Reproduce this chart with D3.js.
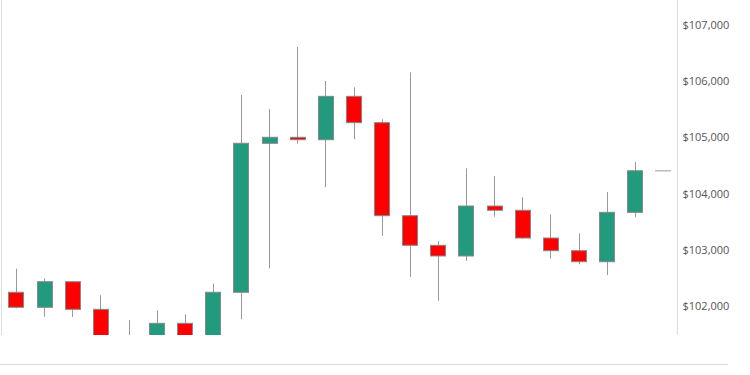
<!DOCTYPE html>
<html>
<head>
<meta charset="utf-8">
<script src="https://cdn.jsdelivr.net/npm/d3@7"></script>
<style>
  body { margin: 0; background: #fff; }
  .y-axis text { font-family: "Open Sans", sans-serif; font-size: 11px; fill: #555; }
  .y-axis path { stroke: #ddd; }
</style>
</head>
<body>
<svg id="chart" width="750" height="375"></svg>
<script>
// candle data, one entry per session
var days  = d3.range(1, 25);
var opens  = [102244, 101977, 102432, 101941, 101400, 101350, 101692, 101420, 102244, 104895, 105002, 104959,
              105731, 105262, 103607, 103080, 102890, 103779, 103703, 103210, 102984, 102788, 103667, 104407];
var highs  = [102664, 102493, 102440, 102190, 101751, 101923, 101852, 102397, 105754, 105505, 106609, 106004,
              105891, 105322, 106158, 103156, 104450, 104313, 103934, 103632, 103293, 104028, 104562, 104407];
var lows   = [101959, 101809, 101805, 101300, 101200, 101250, 101300, 101380, 101763, 102671, 104888, 104112,
              104966, 103251, 102516, 102094, 102801, 103589, 103198, 102841, 102742, 102551, 103578, 104407];
var closes = [101977, 102432, 101941, 101400, 101350, 101692, 101420, 102244, 104895, 105002, 104959, 105731,
              105262, 103607, 103080, 102890, 103779, 103703, 103210, 102984, 102788, 103667, 104407, 104407];
var yTicks = [102000, 103000, 104000, 105000, 106000, 107000];

var upColor = "#219a7d",
    downColor = "#ff0000";

var svg = d3.select("#chart");

var margin = {top: 0, right: 73, bottom: 40, left: 2},
    width = 750 - margin.left - margin.right,
    height = 375 - margin.top - margin.bottom;

var x = d3.scaleBand()
  .domain(days)
  .range([margin.left, margin.left + width])
  .paddingInner(0.46)
  .paddingOuter(0.23);

var y = d3.scaleLinear()
  .domain([101484, 107445])
  .range([margin.top + height, margin.top]);

// clip so candles running off the bottom get cut
svg.append("clipPath")
    .attr("id", "plot-clip")
  .append("rect")
    .attr("x", margin.left)
    .attr("y", margin.top)
    .attr("width", width)
    .attr("height", height);

// left edge and bottom rule
svg.append("line")
  .attr("x1", margin.left - 0.5).attr("x2", margin.left - 0.5)
  .attr("y1", 0).attr("y2", height)
  .attr("stroke", "#ddd");

svg.append("line")
  .attr("x1", 0).attr("x2", 728)
  .attr("y1", 364.5).attr("y2", 364.5)
  .attr("stroke", "#ddd");

// y axis on the right
var yAxis = d3.axisRight(y)
  .tickValues(yTicks)
  .tickSize(0)
  .tickPadding(5)
  .tickFormat(function(d) { return "$" + d3.format(",")(d); });

svg.append("g")
    .attr("class", "y-axis")
    .attr("transform", "translate(" + (margin.left + width + 0.5) + ",0)")
    .call(yAxis)
  .select(".domain")
    .attr("d", "M0,0V" + height);

function mid(d) {
  return Math.round(x(d) + x.bandwidth() / 2) + 0.5;
}

var candles = svg.append("g")
    .attr("clip-path", "url(#plot-clip)")
  .selectAll("g")
  .data(days)
  .join("g");

// wicks (skip flat candles)
candles.filter(function(d, i) { return highs[i] !== lows[i]; })
  .append("line")
  .attr("x1", mid)
  .attr("x2", mid)
  .attr("y1", function(d) { return y(highs[d - 1]); })
  .attr("y2", function(d) { return y(lows[d - 1]); })
  .attr("stroke", "#999")
  .attr("stroke-width", 1);

// bodies
candles.filter(function(d) { return opens[d - 1] !== closes[d - 1]; })
  .append("rect")
  .attr("x", function(d) { return Math.round(x(d)) + 0.5; })
  .attr("width", Math.round(x.bandwidth()))
  .attr("y", function(d) { return y(Math.max(opens[d - 1], closes[d - 1])); })
  .attr("height", function(d) { return Math.abs(y(opens[d - 1]) - y(closes[d - 1])); })
  .attr("fill", function(d) { return closes[d - 1] >= opens[d - 1] ? upColor : downColor; })
  .attr("stroke", "#888")
  .attr("stroke-width", 1);

// flat candles drawn as a single dash
candles.filter(function(d) { return opens[d - 1] === closes[d - 1]; })
  .append("line")
  .attr("x1", function(d) { return Math.round(x(d)); })
  .attr("x2", function(d) { return Math.round(x(d)) + Math.round(x.bandwidth()) + 1; })
  .attr("y1", function(d) { return y(closes[d - 1]); })
  .attr("y2", function(d) { return y(closes[d - 1]); })
  .attr("stroke", "#bbb")
  .attr("stroke-width", 1.5);
</script>
</body>
</html>
